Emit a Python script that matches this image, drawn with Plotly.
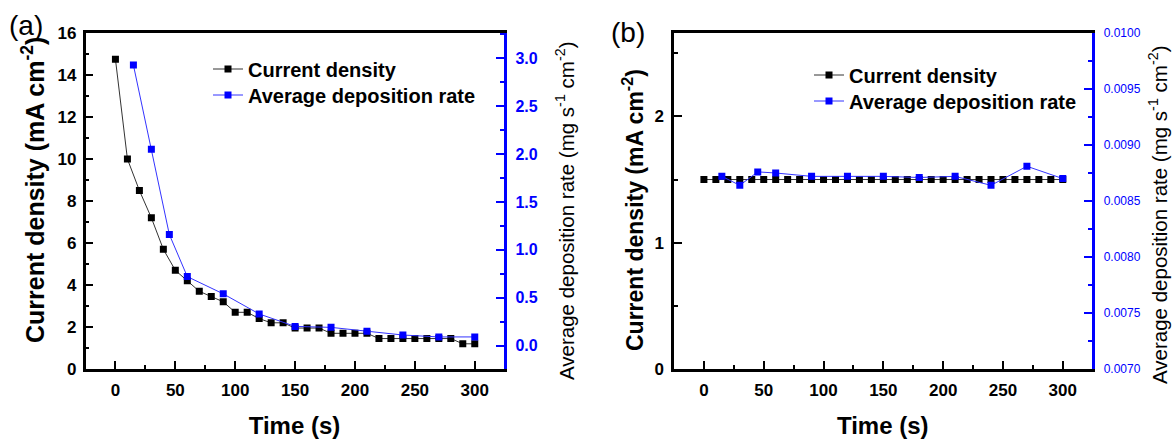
import plotly.graph_objects as go

# ---------------- data ----------------
time_a_cd = [0, 10, 20, 30, 40, 50, 60, 70, 80, 90, 100, 110, 120, 130, 140, 150,
             160, 170, 180, 190, 200, 210, 220, 230, 240, 250, 260, 270, 280, 290, 300]
cd_a = [14.75, 10.0, 8.5, 7.2, 5.7, 4.7, 4.2, 3.7, 3.45, 3.2, 2.7, 2.7, 2.4, 2.2, 2.2, 1.95,
        1.95, 1.95, 1.7, 1.7, 1.7, 1.7, 1.45, 1.45, 1.45, 1.45, 1.45, 1.45, 1.45, 1.2, 1.2]
time_a_rate = [15, 30, 45, 60, 90, 120, 150, 180, 210, 240, 270, 300]
rate_a = [2.93, 2.05, 1.16, 0.72, 0.54, 0.33, 0.20, 0.19, 0.15, 0.11, 0.09, 0.09]

time_b_cd = [0, 10, 20, 30, 40, 50, 60, 70, 80, 90, 100, 110, 120, 130, 140, 150,
             160, 170, 180, 190, 200, 210, 220, 230, 240, 250, 260, 270, 280, 290, 300]
cd_b = [1.5] * 31
time_b_rate = [15, 30, 45, 60, 90, 120, 150, 180, 210, 240, 270, 300]
rate_b = [0.00872, 0.00864, 0.00876, 0.00875, 0.00872, 0.00872, 0.00872, 0.00871,
          0.00872, 0.00864, 0.00881, 0.00870]

x_ticks = [0, 50, 100, 150, 200, 250, 300]

left_title = "Current density (mA cm<sup>-2</sup>)"
right_title = "Average deposition rate (mg s<sup>-1</sup> cm<sup>-2</sup>)"
x_title = "Time (s)"

# ---------------- style ----------------
FONT = "Liberation Sans, Arial, sans-serif"
BLUE = "#0000ff"
BLACK = "#000000"
W, H = 1174, 444


def px_x(p):
    return p / W


def px_y(p):
    return 1 - p / H


ydom = [px_y(369), px_y(33)]

fig = go.Figure()

# panel (a)
fig.add_trace(go.Scatter(x=time_a_cd, y=cd_a, mode="lines+markers", name="Current density",
                         line=dict(color="#333333", width=1),
                         marker=dict(symbol="square", size=7, color=BLACK),
                         xaxis="x", yaxis="y", legend="legend"))
fig.add_trace(go.Scatter(x=time_a_rate, y=rate_a, mode="lines+markers", name="Average deposition rate",
                         line=dict(color="#3333ff", width=1),
                         marker=dict(symbol="square", size=7, color=BLUE),
                         xaxis="x", yaxis="y2", legend="legend2"))
# panel (b)
fig.add_trace(go.Scatter(x=time_b_cd, y=cd_b, mode="lines+markers", name="Current density",
                         line=dict(color="#333333", width=1),
                         marker=dict(symbol="square", size=7, color=BLACK),
                         xaxis="x2", yaxis="y3", legend="legend3"))
fig.add_trace(go.Scatter(x=time_b_rate, y=rate_b, mode="lines+markers", name="Average deposition rate",
                         line=dict(color="#3333ff", width=1),
                         marker=dict(symbol="square", size=7, color=BLUE),
                         xaxis="x2", yaxis="y4", legend="legend4"))

tickfont_bold = dict(family=FONT, size=17, color=BLACK, weight="bold")


def xaxis_cfg(dom, anchor):
    return dict(domain=dom, anchor=anchor, range=[-25, 324], tickvals=x_ticks,
                ticktext=[str(v) for v in x_ticks],
                ticks="inside", ticklen=8, tickwidth=2, tickcolor=BLACK,
                minor=dict(tickvals=[25, 75, 125, 175, 225, 275], ticks="inside", ticklen=4,
                           tickwidth=2, tickcolor=BLACK),
                showline=True, linewidth=2.5, linecolor=BLACK, mirror=True,
                showgrid=False, zeroline=False, tickfont=tickfont_bold,
                ticklabelstandoff=4,
                title=dict(text=x_title, font=dict(family=FONT, size=24, color=BLACK, weight="bold"),
                           standoff=19),
                automargin=False)


def legend_cfg(x, y):
    return dict(x=px_x(x), y=px_y(y), xanchor="left", yanchor="middle",
                bgcolor="rgba(0,0,0,0)", borderwidth=0,
                font=dict(family=FONT, size=20, color=BLACK, weight="bold"), itemwidth=30)


def ytitle(text, cx, cy, size, bold):
    f = dict(family=FONT, size=size, color=BLACK)
    if bold:
        f["weight"] = "bold"
    return dict(text=text, x=px_x(cx), y=px_y(cy), xref="paper", yref="paper",
                xanchor="center", yanchor="middle", textangle=-90, showarrow=False, font=f)


fig.update_layout(
    width=W, height=H,
    margin=dict(l=0, r=0, t=0, b=0),
    paper_bgcolor="white", plot_bgcolor="white",
    showlegend=True,
    xaxis=xaxis_cfg([px_x(85.5), px_x(503.5)], "y"),
    xaxis2=xaxis_cfg([px_x(674), px_x(1091.5)], "y3"),
    yaxis=dict(domain=ydom, anchor="x", range=[0, 16], dtick=2, tickformat="d",
               ticks="inside", ticklen=8, tickwidth=2, tickcolor=BLACK,
               minor=dict(dtick=1, ticks="inside", ticklen=4, tickwidth=2, tickcolor=BLACK),
               showline=True, linewidth=2.5, linecolor=BLACK,
               showgrid=False, zeroline=False, tickfont=tickfont_bold, ticklabelstandoff=3,
               automargin=False),
    yaxis2=dict(domain=ydom, anchor="x", overlaying="y", side="right",
                range=[-0.245, 3.265], dtick=0.5, tick0=0, tickformat=".1f",
                ticks="inside", ticklen=8, tickwidth=2, tickcolor=BLUE,
                minor=dict(dtick=0.25, ticks="inside", ticklen=4, tickwidth=2, tickcolor=BLUE),
                showline=True, linewidth=2.5, linecolor=BLUE,
                showgrid=False, zeroline=False,
                tickfont=dict(family=FONT, size=16, color=BLUE, weight="bold"), ticklabelstandoff=6,
                automargin=False),
    yaxis3=dict(domain=ydom, anchor="x2", range=[0, 2.66], dtick=1, tickformat="d",
                ticks="inside", ticklen=8, tickwidth=2, tickcolor=BLACK,
                minor=dict(dtick=0.5, ticks="inside", ticklen=4, tickwidth=2, tickcolor=BLACK),
                showline=True, linewidth=2.5, linecolor=BLACK,
                showgrid=False, zeroline=False, tickfont=tickfont_bold, ticklabelstandoff=4,
                automargin=False),
    yaxis4=dict(domain=ydom, anchor="x2", overlaying="y3", side="right",
                range=[0.0070, 0.0100], dtick=0.0005, tick0=0.007, tickformat=".4f",
                ticks="inside", ticklen=8, tickwidth=2, tickcolor=BLUE,
                minor=dict(dtick=0.00025, ticks="inside", ticklen=4, tickwidth=2, tickcolor=BLUE),
                showline=True, linewidth=2.5, linecolor=BLUE,
                showgrid=False, zeroline=False,
                tickfont=dict(family=FONT, size=12, color=BLUE), ticklabelstandoff=7,
                automargin=False),
    legend=legend_cfg(208, 69),
    legend2=legend_cfg(208, 95),
    legend3=legend_cfg(809, 75),
    legend4=legend_cfg(809, 101),
    annotations=[
        dict(text="(a)", x=px_x(7), y=px_y(26), xref="paper", yref="paper", xanchor="left",
             yanchor="middle", showarrow=False, font=dict(family=FONT, size=28, color=BLACK)),
        dict(text="(b)", x=px_x(609), y=px_y(32), xref="paper", yref="paper", xanchor="left",
             yanchor="middle", showarrow=False, font=dict(family=FONT, size=28, color=BLACK)),
        ytitle(left_title, 33, 190, 25, True),
        ytitle(left_title, 633, 210, 23, True),
        ytitle(right_title, 565, 211, 20.5, False),
        ytitle(right_title, 1158, 215, 20.5, False),
    ],
)

fig.write_html("out.html", post_script="document.body.style.margin='0';",
               config={"displayModeBar": False})
